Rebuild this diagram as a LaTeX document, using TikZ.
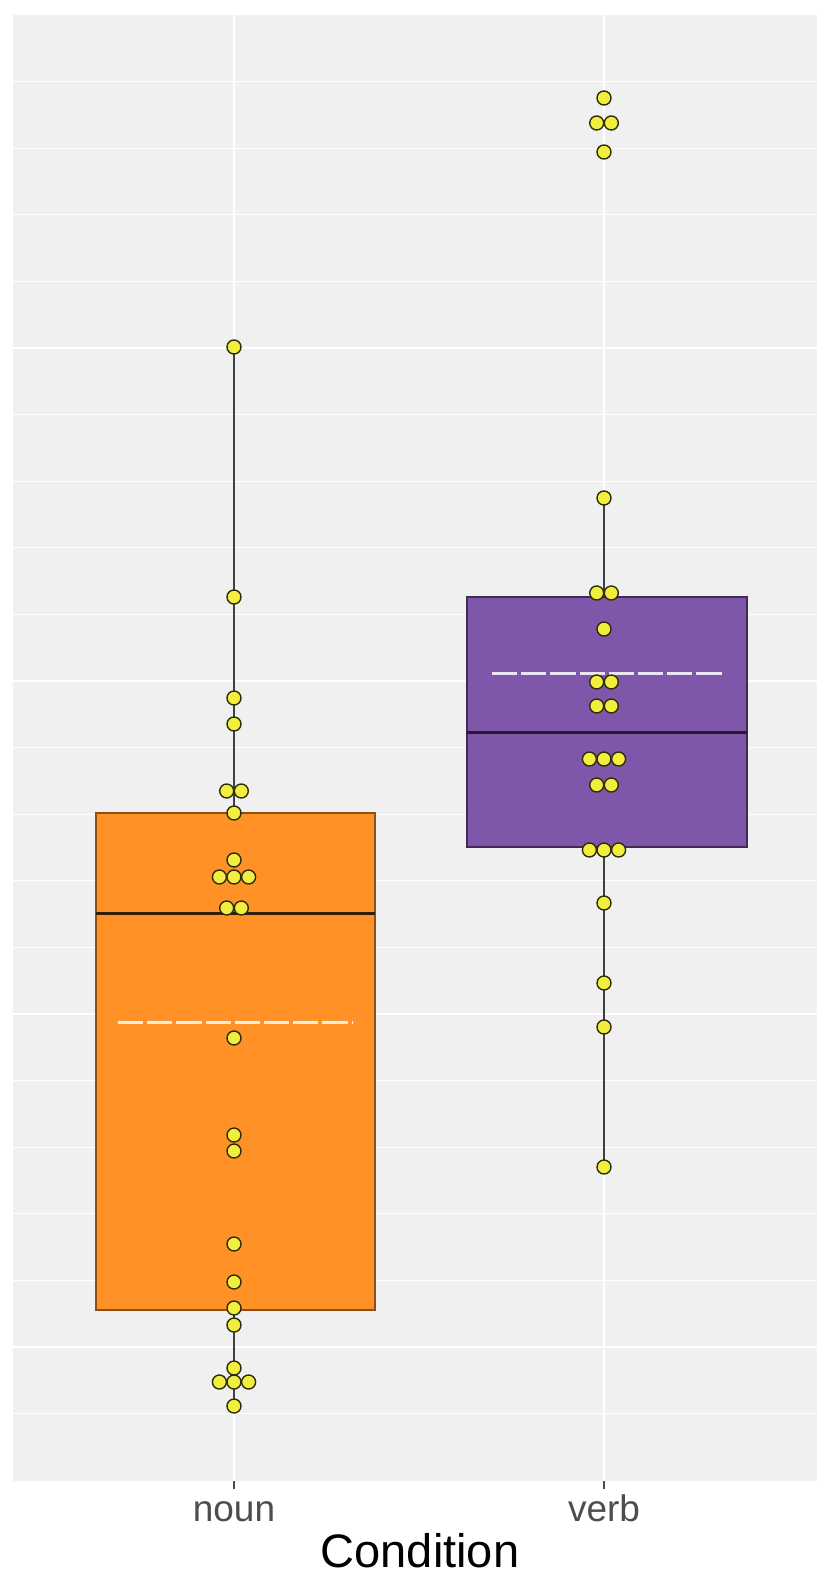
\documentclass[tikz,border=0pt]{standalone}
\usepackage{fontspec}
\setmainfont{Liberation Sans}
\usepackage{xcolor}
\usepackage{tikz}

\definecolor{panelgray}{RGB}{240,240,240}
\definecolor{nounorange}{RGB}{255,145,38}
\definecolor{verbpurple}{RGB}{126,86,170}
\definecolor{dotyellow}{RGB}{242,238,62}
\definecolor{dotedge}{RGB}{45,45,10}
\definecolor{ticktext}{RGB}{77,77,77}

\begin{document}
\begin{tikzpicture}[x=0.5pt, y=-0.5pt,
    grid/.style={white, line width=0.6pt},
    whisker/.style={black!75, line width=1pt},
    meanline/.style={white, opacity=0.85, line width=1.5pt, dash pattern=on 12.6pt off 2pt},
    dot/.style={circle, draw=dotedge, fill=dotyellow, line width=0.7pt, inner sep=0pt, minimum size=7pt},
    ticklabel/.style={text=ticktext, font=\fontsize{18.5}{20}\selectfont, anchor=base}]
    \useasboundingbox (0,0) rectangle (817,1577);
    \fill[panelgray] (13,15) rectangle (817,1481);
    \foreach \k in {-4,...,16}
        \draw[grid] (13,{348+66.6*\k}) -- (817,{348+66.6*\k});
    \draw[grid, line width=0.75pt] (234,15) -- (234,1481);
    \draw[grid, line width=0.75pt] (604,15) -- (604,1481);

    % noun
    \coordinate (nhi) at (234,347);
    \coordinate (nq3) at (234,813);
    \coordinate (nq1) at (234,1310);
    \coordinate (nlo) at (234,1406);
    \draw[whisker] (nhi) -- (nq3);
    \draw[whisker] (nq1) -- (nlo);
    \draw[fill=nounorange, draw=nounorange!55!black, line width=0.7pt] (96,813) rectangle (375,1310);
    \draw[nounorange!20!black, line width=1.5pt] (96,913) -- (375,913);
    \draw[meanline] (118,1022) -- (352,1022);

    % verb
    \coordinate (vhi) at (604,498);
    \coordinate (vq3) at (604,597);
    \coordinate (vq1) at (604,847);
    \coordinate (vlo) at (604,1167);
    \draw[whisker] (vhi) -- (vq3);
    \draw[whisker] (vq1) -- (vlo);
    \draw[fill=verbpurple, draw=verbpurple!50!black, line width=0.7pt] (467,597) rectangle (747,847);
    \draw[verbpurple!30!black, line width=1.5pt] (467,732) -- (747,732);
    \draw[meanline] (492,673) -- (723,673);

    % dots
    \foreach \y/\xs [count=\i] in {347/0, 597/0, 698/0, 724/0, 791/{-7.3,7.3}, 813/0, 860/0,
        877/{-14.6,0,14.6}, 908/{-7.3,7.3}, 1038/0, 1135/0, 1151/0, 1244/0, 1282/0, 1308/0,
        1325/0, 1368/0, 1382/{-14.6,0,14.6}, 1406/0}
        \foreach \dx [count=\j] in \xs
            \node[dot] (n\i-\j) at ({234+\dx},\y) {};
    \foreach \y/\xs [count=\i] in {98/0, 123/{-7.3,7.3}, 152/0, 498/0, 593/{-7.3,7.3}, 629/0,
        682/{-7.3,7.3}, 706/{-7.3,7.3}, 759/{-14.6,0,14.6}, 785/{-7.3,7.3},
        850/{-14.6,0,14.6}, 903/0, 983/0, 1027/0, 1167/0}
        \foreach \dx [count=\j] in \xs
            \node[dot] (v\i-\j) at ({604+\dx},\y) {};

    % axis
    \draw[black!70, line width=0.6pt] (234,1481) -- (234,1489);
    \draw[black!70, line width=0.6pt] (604,1481) -- (604,1489);
    \node[ticklabel] (noun) at (234,1521) {noun};
    \node[ticklabel] (verb) at (604,1521) {verb};
    \node[anchor=base, font=\fontsize{23.5}{26}\selectfont] (cond) at (420,1567) {Condition};
\end{tikzpicture}
\end{document}
